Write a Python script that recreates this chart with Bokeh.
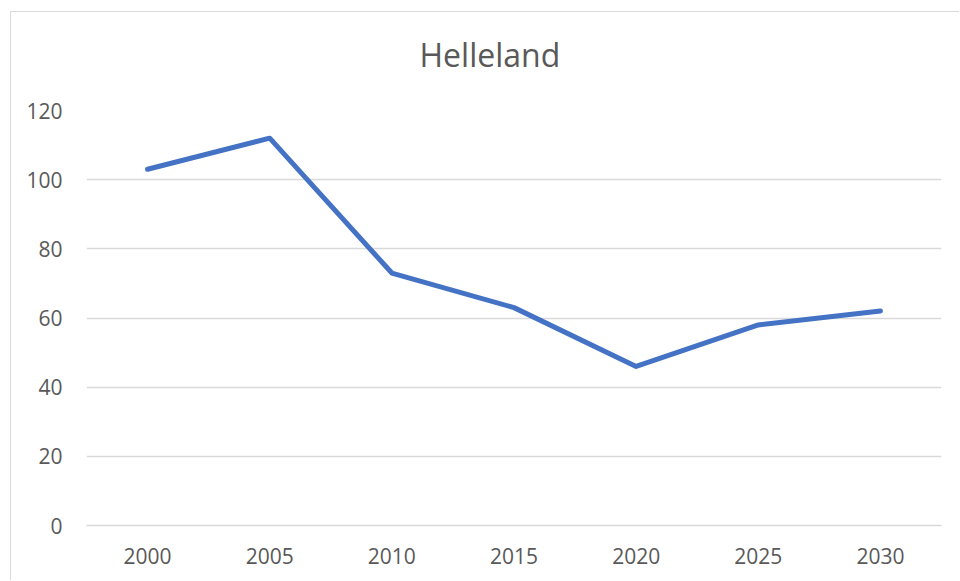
from bokeh.plotting import figure
from bokeh.models import FactorRange, Range1d, FixedTicker, Title
from bokeh.embed import file_html
from bokeh.resources import INLINE

years = ["2000", "2005", "2010", "2015", "2020", "2025", "2030"]
values = [103, 112, 73, 63, 46, 58, 62]
y_ticks = [0, 20, 40, 60, 80, 100, 120]
title_text = "Helleland"

TXT = "#595959"
GRID = "#d9d9d9"

p = figure(
    width=949, height=569,
    x_range=FactorRange(*years, range_padding=0),
    y_range=Range1d(0, 120),
    output_backend="svg", toolbar_location=None,
    min_border_left=75, min_border_right=19,
    min_border_top=98, min_border_bottom=56,
    margin=(11, 0, 0, 10),
    styles={"border-left": f"1px solid {GRID}", "border-top": f"1px solid {GRID}"},
)
p.outline_line_color = None
p.background_fill_color = "white"
p.border_fill_color = "white"

spacer = Title(text=" ", text_font_size="1px", standoff=32)
p.add_layout(spacer, "above")
t = Title(text=title_text, text_font="Open Sans", text_font_size="32px",
          text_font_style="normal", text_color=TXT, align="left", offset=333,
          standoff=0)
p.add_layout(t, "above")

p.line(x=years, y=values, line_color="#4472C4", line_width=5,
       line_cap="round", line_join="round")

for ax in (p.xaxis, p.yaxis):
    ax.axis_line_color = None
    ax.major_tick_line_color = None
    ax.minor_tick_line_color = None
    ax.major_label_text_font = "Open Sans"
    ax.major_label_text_font_size = "21px"
    ax.major_label_text_color = TXT

p.xaxis.axis_line_color = GRID
p.xaxis.axis_line_width = 1.3
p.yaxis.ticker = FixedTicker(ticks=y_ticks)
p.yaxis.major_label_standoff = 18
p.xaxis.major_label_standoff = 16

p.xgrid.grid_line_color = None
p.ygrid.grid_line_color = GRID
p.ygrid.grid_line_width = 1.3
p.ygrid.ticker = FixedTicker(ticks=y_ticks)

open("out.html", "w").write(file_html(p, INLINE))
